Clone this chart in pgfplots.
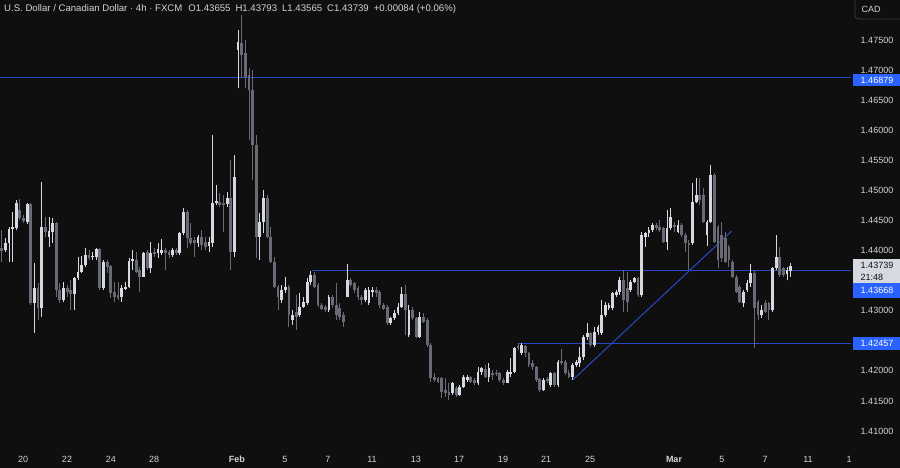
\documentclass[border=0pt]{standalone}
\usepackage{pgfplots}
\pgfplotsset{compat=1.18}
\usepackage{pgfplotstable}
\usepackage{fontspec}
\setmainfont{Liberation Sans}

\definecolor{bg}{RGB}{15,15,15}
\definecolor{upc}{RGB}{214,217,224}
\definecolor{dnc}{RGB}{104,107,117}
\definecolor{lvl}{RGB}{40,72,200}
\definecolor{tag}{RGB}{41,98,255}
\definecolor{txt}{RGB}{209,212,220}
\definecolor{boxline}{RGB}{60,60,62}

% USDCAD 4h candles: index, open, high, low, close
\pgfplotstableread{
i o h l c
1 1.4404 1.4434 1.4381 1.4399
2 1.4401 1.4421 1.4398 1.4413
3 1.4413 1.4439 1.4381 1.4436
4 1.4436 1.4464 1.4381 1.4439
5 1.4438 1.4484 1.4434 1.4479
6 1.4467 1.4486 1.4451 1.4454
7 1.4454 1.4459 1.4446 1.4449
8 1.4447 1.4479 1.4444 1.4477
9 1.4477 1.4479 1.4310 1.4313
10 1.4313 1.4379 1.4263 1.4338
11 1.4338 1.4346 1.4285 1.4305
12 1.4305 1.4514 1.4290 1.4439
13 1.4439 1.4456 1.4423 1.4431
14 1.4423 1.4456 1.4406 1.4433
15 1.4431 1.4454 1.4413 1.4446
16 1.4446 1.4447 1.4323 1.4335
17 1.4335 1.4346 1.4313 1.4318
18 1.4318 1.4348 1.4315 1.4338
19 1.4338 1.4343 1.4323 1.4331
20 1.4335 1.4351 1.4301 1.4328
21 1.4328 1.4356 1.4301 1.4354
22 1.4354 1.4389 1.4351 1.4364
23 1.4364 1.4391 1.4363 1.4376
24 1.4376 1.4404 1.4373 1.4393
25 1.4393 1.4401 1.4384 1.4388
26 1.4389 1.4398 1.4384 1.4391
27 1.4389 1.4404 1.4384 1.4403
28 1.4403 1.4404 1.4335 1.4338
29 1.4338 1.4384 1.4335 1.4381
30 1.4381 1.4384 1.4363 1.4373
31 1.4374 1.4376 1.4321 1.4330
32 1.4331 1.4348 1.4315 1.4323
33 1.4326 1.4348 1.4318 1.4321
34 1.4323 1.4343 1.4315 1.4338
35 1.4336 1.4348 1.4335 1.4340
36 1.4340 1.4388 1.4338 1.4383
37 1.4383 1.4401 1.4368 1.4386
38 1.4384 1.4398 1.4363 1.4364
39 1.4368 1.4373 1.4331 1.4356
40 1.4356 1.4398 1.4356 1.4396
41 1.4398 1.4401 1.4368 1.4371
42 1.4371 1.4414 1.4363 1.4396
43 1.4398 1.4404 1.4389 1.4394
44 1.4396 1.4413 1.4388 1.4403
45 1.4396 1.4419 1.4393 1.4401
46 1.4401 1.4404 1.4368 1.4396
47 1.4398 1.4401 1.4388 1.4393
48 1.4393 1.4404 1.4389 1.4401
49 1.4401 1.4404 1.4393 1.4396
50 1.4396 1.4431 1.4393 1.4429
51 1.4429 1.4471 1.4426 1.4464
52 1.4464 1.4467 1.4404 1.4421
53 1.4421 1.4446 1.4409 1.4413
54 1.4418 1.4423 1.4389 1.4413
55 1.4413 1.4426 1.4406 1.4423
56 1.4423 1.4434 1.4401 1.4409
57 1.4414 1.4423 1.4401 1.4406
58 1.4408 1.4423 1.4398 1.4414
59 1.4413 1.4592 1.4406 1.4479
60 1.4479 1.4509 1.4476 1.4482
61 1.4481 1.4496 1.4472 1.4476
62 1.4479 1.4492 1.4431 1.4476
63 1.4477 1.4497 1.4472 1.4487
64 1.4487 1.4551 1.4368 1.4398
65 1.4398 1.4559 1.4389 1.4522
66 1.4733 1.4767 1.4670 1.4747
67 1.4745 1.4792 1.4687 1.4725
68 1.4728 1.4750 1.4670 1.4689
69 1.4692 1.4704 1.4584 1.4667
70 1.4667 1.4700 1.4517 1.4576
71 1.4576 1.4592 1.4388 1.4423
72 1.4423 1.4462 1.4384 1.4447
73 1.4447 1.4501 1.4429 1.4487
74 1.4487 1.4492 1.4421 1.4423
75 1.4423 1.4439 1.4379 1.4381
76 1.4381 1.4389 1.4338 1.4340
77 1.4340 1.4343 1.4301 1.4323
78 1.4318 1.4343 1.4313 1.4335
79 1.4335 1.4356 1.4330 1.4340
80 1.4340 1.4343 1.4273 1.4293
81 1.4285 1.4301 1.4276 1.4293
82 1.4298 1.4326 1.4268 1.4290
83 1.4293 1.4330 1.4290 1.4306
84 1.4306 1.4323 1.4305 1.4315
85 1.4313 1.4354 1.4310 1.4348
86 1.4348 1.4366 1.4343 1.4359
87 1.4359 1.4364 1.4338 1.4340
88 1.4343 1.4346 1.4306 1.4310
89 1.4310 1.4313 1.4301 1.4303
90 1.4306 1.4310 1.4298 1.4301
91 1.4301 1.4326 1.4298 1.4323
92 1.4323 1.4326 1.4305 1.4310
93 1.4310 1.4346 1.4285 1.4293
94 1.4305 1.4313 1.4285 1.4290
95 1.4293 1.4298 1.4273 1.4281
96 1.4323 1.4378 1.4323 1.4351
97 1.4351 1.4354 1.4340 1.4343
98 1.4346 1.4348 1.4330 1.4335
99 1.4338 1.4341 1.4318 1.4323
100 1.4323 1.4326 1.4310 1.4318
101 1.4318 1.4338 1.4315 1.4335
102 1.4313 1.4340 1.4310 1.4335
103 1.4331 1.4340 1.4323 1.4335
104 1.4335 1.4340 1.4323 1.4330
105 1.4331 1.4335 1.4305 1.4310
106 1.4310 1.4313 1.4301 1.4303
107 1.4306 1.4310 1.4276 1.4280
108 1.4280 1.4290 1.4276 1.4288
109 1.4288 1.4301 1.4285 1.4296
110 1.4296 1.4313 1.4293 1.4306
111 1.4306 1.4340 1.4305 1.4328
112 1.4328 1.4343 1.4260 1.4301
113 1.4260 1.4310 1.4256 1.4301
114 1.4301 1.4306 1.4285 1.4288
115 1.4288 1.4290 1.4255 1.4256
116 1.4256 1.4298 1.4255 1.4290
117 1.4290 1.4296 1.4280 1.4281
118 1.4285 1.4288 1.4240 1.4243
119 1.4243 1.4246 1.4182 1.4188
120 1.4190 1.4197 1.4182 1.4185
121 1.4188 1.4190 1.4180 1.4182
122 1.4188 1.4190 1.4155 1.4165
123 1.4168 1.4188 1.4157 1.4163
124 1.4165 1.4180 1.4152 1.4160
125 1.4163 1.4182 1.4160 1.4180
126 1.4172 1.4175 1.4157 1.4160
127 1.4160 1.4177 1.4158 1.4173
128 1.4173 1.4193 1.4172 1.4190
129 1.4185 1.4193 1.4182 1.4190
130 1.4190 1.4192 1.4180 1.4182
131 1.4185 1.4188 1.4177 1.4180
132 1.4180 1.4206 1.4177 1.4198
133 1.4198 1.4206 1.4193 1.4205
134 1.4203 1.4210 1.4188 1.4190
135 1.4190 1.4213 1.4182 1.4205
136 1.4197 1.4202 1.4185 1.4193
137 1.4197 1.4202 1.4192 1.4195
138 1.4197 1.4198 1.4182 1.4185
139 1.4185 1.4188 1.4177 1.4180
140 1.4180 1.4202 1.4180 1.4198
141 1.4195 1.4221 1.4190 1.4198
142 1.4198 1.4240 1.4197 1.4238
143 1.4241 1.4246 1.4235 1.4238
144 1.4230 1.4246 1.4226 1.4243
145 1.4241 1.4243 1.4223 1.4230
146 1.4230 1.4231 1.4206 1.4210
147 1.4213 1.4218 1.4202 1.4206
148 1.4206 1.4208 1.4182 1.4185
149 1.4187 1.4188 1.4165 1.4168
150 1.4168 1.4188 1.4167 1.4185
151 1.4187 1.4190 1.4180 1.4183
152 1.4177 1.4198 1.4173 1.4197
153 1.4197 1.4198 1.4173 1.4177
154 1.4177 1.4218 1.4173 1.4215
155 1.4216 1.4236 1.4210 1.4213
156 1.4215 1.4218 1.4193 1.4197
157 1.4197 1.4202 1.4188 1.4190
158 1.4190 1.4213 1.4185 1.4210
159 1.4210 1.4218 1.4206 1.4215
160 1.4213 1.4240 1.4206 1.4223
161 1.4223 1.4260 1.4218 1.4256
162 1.4256 1.4280 1.4251 1.4263
163 1.4263 1.4265 1.4240 1.4243
164 1.4243 1.4273 1.4240 1.4265
165 1.4265 1.4276 1.4260 1.4273
166 1.4263 1.4318 1.4260 1.4293
167 1.4293 1.4315 1.4290 1.4310
168 1.4305 1.4313 1.4301 1.4310
169 1.4305 1.4331 1.4301 1.4330
170 1.4326 1.4335 1.4323 1.4331
171 1.4331 1.4356 1.4326 1.4351
172 1.4351 1.4368 1.4298 1.4318
173 1.4338 1.4364 1.4298 1.4315
174 1.4335 1.4351 1.4331 1.4348
175 1.4348 1.4356 1.4346 1.4354
176 1.4354 1.4356 1.4323 1.4326
177 1.4326 1.4431 1.4323 1.4426
178 1.4423 1.4431 1.4406 1.4429
179 1.4429 1.4439 1.4423 1.4434
180 1.4434 1.4446 1.4431 1.4442
181 1.4442 1.4446 1.4434 1.4438
182 1.4439 1.4451 1.4431 1.4434
183 1.4438 1.4439 1.4413 1.4414
184 1.4414 1.4467 1.4401 1.4438
185 1.4438 1.4471 1.4434 1.4456
186 1.4442 1.4447 1.4431 1.4439
187 1.4431 1.4451 1.4429 1.4442
188 1.4442 1.4446 1.4423 1.4426
189 1.4426 1.4429 1.4398 1.4413
190 1.4413 1.4418 1.4368 1.4409
191 1.4413 1.4512 1.4409 1.4481
192 1.4481 1.4521 1.4479 1.4492
193 1.4492 1.4521 1.4476 1.4484
194 1.4492 1.4504 1.4446 1.4447
195 1.4426 1.4451 1.4408 1.4447
196 1.4447 1.4542 1.4446 1.4526
197 1.4526 1.4529 1.4413 1.4414
198 1.4439 1.4442 1.4371 1.4384
199 1.4426 1.4447 1.4381 1.4388
200 1.4421 1.4431 1.4379 1.4381
201 1.4406 1.4409 1.4373 1.4384
202 1.4381 1.4384 1.4354 1.4356
203 1.4356 1.4359 1.4330 1.4331
204 1.4340 1.4343 1.4313 1.4315
205 1.4313 1.4335 1.4306 1.4331
206 1.4335 1.4351 1.4331 1.4346
207 1.4346 1.4378 1.4340 1.4363
208 1.4363 1.4368 1.4238 1.4305
209 1.4315 1.4318 1.4285 1.4293
210 1.4293 1.4310 1.4288 1.4301
211 1.4313 1.4318 1.4296 1.4298
212 1.4313 1.4315 1.4285 1.4301
213 1.4301 1.4373 1.4298 1.4371
214 1.4371 1.4426 1.4368 1.4389
215 1.4389 1.4406 1.4356 1.4359
216 1.4371 1.4373 1.4356 1.4359
217 1.4361 1.4373 1.4351 1.4368
218 1.43655 1.43793 1.43565 1.43739
}\candles

\pgfplotsset{
  wick/.style={no markers, -, line width=0.9pt,
    quiver={u=0, v={\thisrow{h}-\thisrow{l}}}},
  body/.style={no markers, -, line width=2.8pt,
    quiver={u=0, v={2*max(abs(\thisrow{c}-\thisrow{o})/2,0.00008)}}},
  up/.style={restrict expr to domain={\thisrow{c}-\thisrow{o}}{0:1}},
  down/.style={restrict expr to domain={\thisrow{c}-\thisrow{o}}{-1:-0.000001}},
}

\begin{document}
\begin{tikzpicture}[x=1pt,y=1pt]
\fill[bg] (0,0) rectangle (900,468);
\begin{axis}[
  at={(0pt,22pt)}, anchor=south west,
  scale only axis, width=851pt, height=446pt,
  xmin=0.532, xmax=234.58,
  ymin=1.407516, ymax=1.48165,
  axis line style={draw=none},
  major tick length=0pt,
  ticklabel style={font=\fontsize{9}{10}\selectfont, text=txt},
  xtick={6.86,18.96,31.06,42.89,65.71,78.91,90.74,102.84,114.94,126.77,138.87,150.70,162.80,185.90,199.10,210.93,222.76},
  xticklabels={20,22,24,28,\textbf{Feb},5,7,11,13,17,19,21,25,\textbf{Mar},5,7,11},
  xticklabel style={anchor=center, yshift=-13pt},
  ytick={1.410,1.415,1.420,1.430,1.440,1.445,1.450,1.455,1.460,1.465,1.470,1.475},
  yticklabels={1.41000,1.41500,1.42000,1.43000,1.44000,1.44500,1.45000,1.45500,1.46000,1.46500,1.47000,1.47500},
  yticklabel pos=right,
  yticklabel style={anchor=center, xshift=26pt},
]
% level lines
\addplot[lvl, line width=1pt] coordinates {(0.532,1.46879) (234.58,1.46879)};
\addplot[lvl, line width=1pt] coordinates {(86.34,1.43668) (234.58,1.43668)};
\addplot[lvl, line width=1pt] coordinates {(143.0,1.42457) (234.58,1.42457)};
\addplot[lvl, line width=1pt] coordinates {(158.04,1.41849) (201.77,1.44325)};
% wicks
\addplot[dnc, wick, down] table[x=i, y=l] {\candles};
\addplot[upc, wick, up] table[x=i, y=l] {\candles};
% bodies
\addplot[dnc, body, down] table[x=i,
  y expr={(\thisrow{o}+\thisrow{c})/2-max(abs(\thisrow{c}-\thisrow{o})/2,0.00008)}] {\candles};
\addplot[upc, body, up] table[x=i,
  y expr={(\thisrow{o}+\thisrow{c})/2-max(abs(\thisrow{c}-\thisrow{o})/2,0.00008)}] {\candles};
\end{axis}

% title
\node[anchor=west, inner sep=0, text=txt, font=\fontsize{9.6}{11}\selectfont] at (4,459)
  {U.S. Dollar / Canadian Dollar · 4h · FXCM\hspace{6pt}O1.43655\hspace{5pt}H1.43793\hspace{5pt}L1.43565\hspace{5pt}C1.43739\hspace{5pt}+0.00084 (+0.06\%)};

% price scale tags
\begin{scope}[font=\fontsize{9}{10}\selectfont]
\fill[tag] (853,382) rectangle (900,394);
\node[white] at (877,388) {1.46879};
\fill[upc] (853,185) rectangle (900,209);
\node[text=bg] at (877,203) {1.43739};
\node[text=bg, anchor=west, inner sep=0] at (860.5,191) {21:48};
\fill[tag] (853,170) rectangle (900,185);
\node[white] at (877,177.5) {1.43668};
\fill[tag] (853,118) rectangle (900,131);
\node[white] at (877,124.5) {1.42457};
\draw[boxline, rounded corners=3pt, line width=0.8pt] (855,449) rectangle (906,472);
\node[text=txt] at (871,459) {CAD};
\node[text=txt] at (849,9) {1};
\end{scope}

\pgfresetboundingbox
\path[use as bounding box] (0,0) rectangle (900,468);
\end{tikzpicture}
\end{document}
